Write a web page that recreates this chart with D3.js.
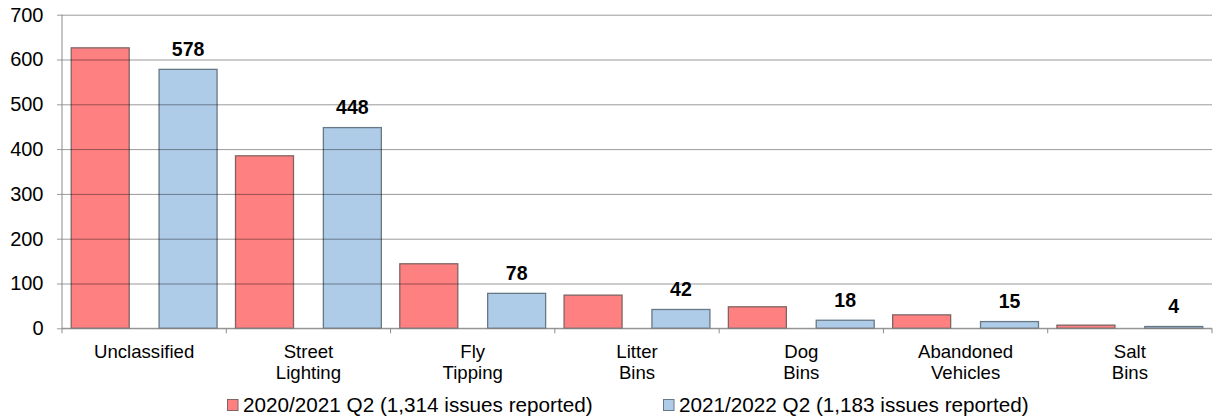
<!DOCTYPE html>
<html>
<head>
<meta charset="utf-8">
<script src="https://cdn.jsdelivr.net/npm/d3@7"></script>
<style>
  html, body { margin: 0; padding: 0; background: #fff; }
  svg { display: block; font-family: "Liberation Sans", Arial, sans-serif; }
</style>
</head>
<body>
<svg id="chart" width="1219" height="419"></svg>
<script>
// Categories (two-line labels split on "|")
const categories = ["Unclassified", "Street|Lighting", "Fly|Tipping", "Litter|Bins", "Dog|Bins", "Abandoned|Vehicles", "Salt|Bins"];
const seriesNames = ["2020/2021 Q2 (1,314 issues reported)", "2021/2022 Q2 (1,183 issues reported)"];
const values2020 = [626, 385, 144, 74, 48, 30, 7];
const values2021 = [578, 448, 78, 42, 18, 15, 4];
const yTicks = [0, 100, 200, 300, 400, 500, 600, 700];

const colors = ["#FF8080", "#AECBE8"];
const strokes = ["#806464", "#687886"];

const svg = d3.select("#chart");
const margin = { left: 62, right: 7, top: 14.7, bottom: 90.7 };
const W = 1219, H = 419;
const innerW = W - margin.left - margin.right;
const innerH = H - margin.top - margin.bottom;

const g = svg.append("g").attr("transform", `translate(${margin.left},${margin.top})`);

const x0 = d3.scaleBand().domain(categories).range([0, innerW]).padding(0);
const x1 = d3.scaleBand().domain([0, 1]).range([0, x0.bandwidth()]).paddingInner(0.34).paddingOuter(0.105);
const y = d3.scaleLinear().domain([0, 700]).range([innerH, 0]);

const data = categories.map((c, i) => ({ cat: c, vals: [values2020[i], values2021[i]] }));

// Bars
const groups = g.selectAll(".cat").data(data).join("g")
  .attr("transform", d => `translate(${x0(d.cat)},0)`);
groups.selectAll("rect").data(d => d.vals.map((v, s) => ({ v, s }))).join("rect")
  .attr("x", d => x1(d.s))
  .attr("width", x1.bandwidth())
  .attr("y", d => y(d.v))
  .attr("height", d => innerH - y(d.v))
  .attr("fill", d => colors[d.s])
  .attr("stroke", d => strokes[d.s])
  .attr("stroke-width", 1.3);

// Horizontal gridlines drawn over the bars
const yAxis = d3.axisLeft(y).tickValues(yTicks).tickSize(-innerW).tickPadding(18.5).tickFormat(d3.format("d"));
const ya = g.append("g").call(yAxis);
ya.select(".domain").remove();
ya.selectAll(".tick line").attr("stroke", "#000").attr("stroke-opacity", 0.4).attr("x1", -5);
ya.selectAll(".tick text").attr("font-size", 20).attr("fill", "#000")
  .attr("font-family", "Liberation Sans, Arial, sans-serif");

// Left axis line
g.append("line").attr("x1", 0).attr("x2", 0).attr("y1", 0).attr("y2", innerH)
  .attr("stroke", "#8c8c8c");

// Bottom axis line with ticks at category boundaries
g.append("line").attr("x1", 0).attr("x2", innerW).attr("y1", innerH).attr("y2", innerH)
  .attr("stroke", "#8c8c8c");
const boundaries = categories.map(c => x0(c)).concat([innerW]);
g.selectAll(".btick").data(boundaries).join("line")
  .attr("x1", d => d).attr("x2", d => d)
  .attr("y1", innerH).attr("y2", innerH + 5)
  .attr("stroke", "#8c8c8c");

// Category labels
const catLabels = g.selectAll(".clabel").data(categories).join("text")
  .attr("text-anchor", "middle")
  .attr("font-size", 18.6)
  .attr("fill", "#000")
  .attr("transform", d => `translate(${x0(d) + x0.bandwidth() / 2},${innerH + 29.5})`);
catLabels.each(function (d) {
  const lines = d.split("|");
  d3.select(this).selectAll("tspan").data(lines).join("tspan")
    .attr("x", 0).attr("dy", (l, i) => i === 0 ? 0 : 21.5).text(l => l);
});

// Value labels on 2021/2022 bars
g.selectAll(".vlabel").data(data).join("text")
  .attr("x", d => x0(d.cat) + x1(1) + x1.bandwidth() / 2)
  .attr("y", d => y(d.vals[1]) - 13.5)
  .attr("text-anchor", "middle")
  .attr("font-size", 19.5)
  .attr("font-weight", "bold")
  .attr("fill", "#000")
  .text(d => d.vals[1]);

// Legend
const legendPos = [227, 663];
const legend = svg.selectAll(".leg").data(seriesNames).join("g")
  .attr("transform", (d, i) => `translate(${legendPos[i]},405)`);
legend.append("rect")
  .attr("x", 0.5).attr("y", -5.5).attr("width", 10.5).attr("height", 11)
  .attr("fill", (d, i) => colors[i]).attr("stroke", (d, i) => strokes[i]);
legend.append("text")
  .attr("x", 16).attr("y", 6.5)
  .attr("font-size", 20.7).attr("fill", "#000")
  .text(d => d);
</script>
</body>
</html>
